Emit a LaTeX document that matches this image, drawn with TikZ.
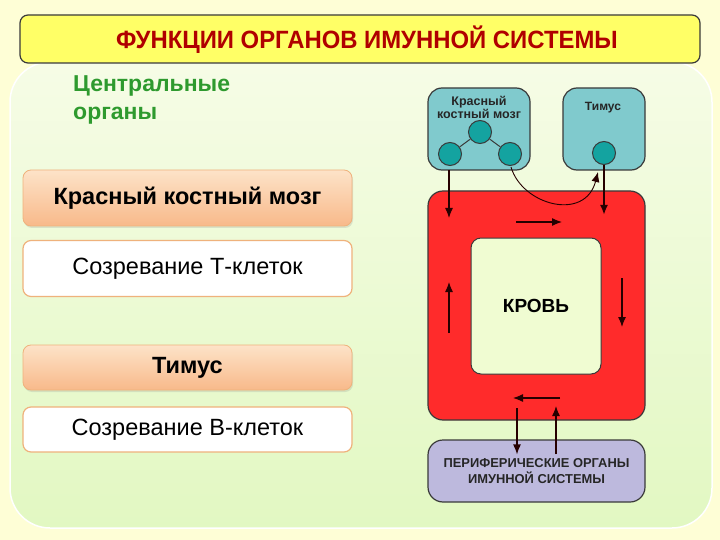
\documentclass[tikz,border=0pt]{standalone}
\usepackage{fontspec}
\setmainfont{Liberation Sans}
\usetikzlibrary{arrows.meta,shadows}
\definecolor{bgyellow}{HTML}{FEFED6}
\definecolor{panelTop}{HTML}{F6FCE6}
\definecolor{panelBot}{HTML}{E2F8C2}
\definecolor{titlefill}{HTML}{FFFF66}
\definecolor{titletext}{HTML}{B00000}
\definecolor{greentext}{HTML}{2E9A2E}
\definecolor{peachTop}{HTML}{FDE3C8}
\definecolor{peachBot}{HTML}{F8B98A}
\definecolor{orangeline}{HTML}{EFB27C}
\definecolor{tealbox}{HTML}{80CACD}
\definecolor{tealdot}{HTML}{14A3A0}
\definecolor{bloodred}{HTML}{FF2B2B}
\definecolor{innerfill}{HTML}{F0FCD2}
\definecolor{lavender}{HTML}{BDB9DD}
\definecolor{darkline}{HTML}{3A3A3A}
\tikzset{
  headbox/.style={draw=orangeline, line width=0.8pt, rounded corners=8pt, top color=peachTop, bottom color=peachBot,
     minimum width=329pt, font=\bfseries\fontsize{23.5}{26}\selectfont, text=black, drop shadow={opacity=0.2,shadow xshift=1pt,shadow yshift=-2pt}},
  textbox/.style={draw=orangeline, line width=1.2pt, rounded corners=8pt, fill=white,
     minimum width=329pt, font=\fontsize{23.5}{26}\selectfont, text=black},
  organ/.style={draw=darkline, line width=1.2pt, rounded corners=14pt, fill=tealbox},
  dot/.style={circle, draw=darkline, line width=1pt, fill=tealdot, minimum width=21pt, minimum height=23pt, inner sep=0pt},
  flow/.style={-{Latex[length=10pt,width=8pt]}, line width=1.2pt, draw=black!85!red},
}
\begin{document}
\begin{tikzpicture}[x=1pt,y=-1pt]
\useasboundingbox (0,0) rectangle (720,540);
\fill[bgyellow] (0,0) rectangle (720,540);
% big panel
\shade[top color=panelTop, bottom color=panelBot, draw=white, line width=1.5pt, rounded corners=40pt]
  (10,62) rectangle (712,528);
% title
\node[draw=darkline, line width=1.2pt, rounded corners=8pt, fill=titlefill, minimum width=680pt, minimum height=48pt] (title) at (360,39) {};
\node[font=\bfseries\fontsize{25}{28}\selectfont, text=titletext, inner sep=0pt] (titletxt) at (367,40)
      {\scalebox{0.955}[1]{ФУНКЦИИ ОРГАНОВ ИМУННОЙ СИСТЕМЫ}};
% central organs label
\node[anchor=north west, align=left, text=greentext, font=\bfseries\fontsize{23}{28}\selectfont, inner sep=0pt] (central) at (73,75)
  {Центральные\\органы};
% left boxes
\node[headbox, minimum height=56pt] (bm) at (187.5,198) {Красный костный мозг};
\node[textbox, minimum height=56pt] (tcell) at (187.5,268.5) {Созревание Т-клеток};
\node[headbox, minimum height=45pt] (thy) at (187.5,367.5) {Тимус};
\node[textbox, minimum height=45pt] (bcell) at (187.5,429.5) {Созревание В-клеток};
% right side: organs
\node[organ, minimum width=102pt, minimum height=82pt] (rbm) at (479,129) {};
\node[font=\bfseries\fontsize{12.5}{11}\selectfont, align=center, text=black!85, inner sep=0pt] (rbmlabel) at (479,107) {Красный\\костный мозг};
\node[organ, minimum width=82pt, minimum height=82pt] (rthy) at (604,129) {};
\node[font=\bfseries\fontsize{12}{12}\selectfont, text=black!85, inner sep=0pt] (rthylabel) at (603,108) {Тимус};
\node[dot] (d1) at (480,132) {};
\node[dot] (d2) at (450,154) {};
\node[dot] (d3) at (510,154) {};
\node[dot] (d4) at (604,153) {};
\draw[darkline, line width=1pt] (d1) -- (d2);
\draw[darkline, line width=1pt] (d1) -- (d3);
% blood frame
\node[draw=darkline, line width=1.2pt, rounded corners=15pt, fill=bloodred, minimum width=217pt, minimum height=229pt] (blood) at (536.5,305.5) {};
\node[draw=darkline, line width=1pt, rounded corners=10pt, fill=innerfill, minimum width=130pt, minimum height=136pt,
      font=\bfseries\fontsize{19}{22}\selectfont] (krov) at (536,306) {КРОВЬ};
% peripheral organs
\node[draw=darkline, line width=1.2pt, rounded corners=15pt, fill=lavender, minimum width=217pt, minimum height=62pt,
      align=center, font=\bfseries\fontsize{12.9}{16}\selectfont, text=black!85] (periph) at (536.5,471) {ПЕРИФЕРИЧЕСКИЕ ОРГАНЫ\\ИМУННОЙ СИСТЕМЫ};
% connectors
\coordinate (bmout) at (449,170);
\coordinate (bmin) at (449,218);
\draw[flow] (bmout) -- (bmin);
\coordinate (curvestart) at (511,167);
\coordinate (curveend) at (598,172);
\draw[flow, line width=0.9pt] (curvestart) .. controls (522,205) and (585,222) .. (curveend);
\coordinate (thyin) at (604,165);
\coordinate (thyout) at (604,215);
\draw[flow, line width=2.2pt] (thyin) -- (thyout);
% circulation arrows
\coordinate (a1) at (516,222); \coordinate (a2) at (562,222);
\draw[flow] (a1) -- (a2);
\coordinate (b1) at (622,278); \coordinate (b2) at (622,327);
\draw[flow] (b1) -- (b2);
\coordinate (c1) at (560,398); \coordinate (c2) at (513,398);
\draw[flow] (c1) -- (c2);
\coordinate (e1) at (449,333); \coordinate (e2) at (449,282);
\draw[flow] (e1) -- (e2);
% to/from periphery
\coordinate (p1) at (517,408);
\draw[flow] (p1) -- ([yshift=-15pt]periph.north -| p1);
\coordinate (p2) at (556,406);
\draw[flow] ([yshift=-15pt]periph.north -| p2) -- (p2);
\end{tikzpicture}
\end{document}
